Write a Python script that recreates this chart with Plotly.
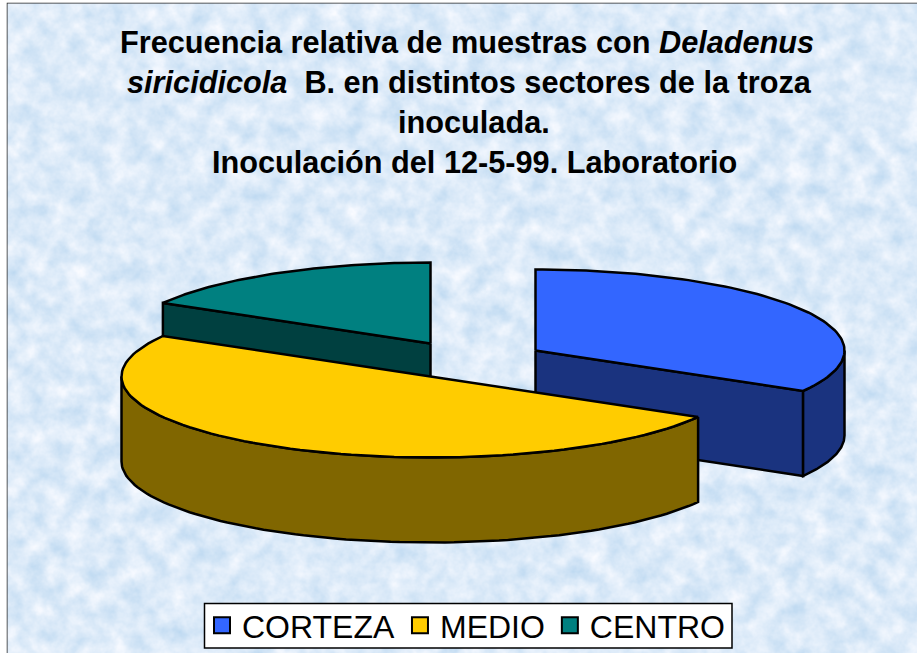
import base64
import numpy as np
import plotly.graph_objects as go

# Data
categories = ["CORTEZA", "MEDIO", "CENTRO"]
values = [2, 3, 1]  # relative frequency: 1/3, 1/2, 1/6
top_colors = ["#3366FF", "#FFCC00", "#008080"]
side_colors = ["#1A337F", "#806600", "#004040"]
title_lines = [
    "Frecuencia relativa de muestras con <i>Deladenus</i>",
    "<i>siricidicola</i>\u00a0 B. en distintos sectores de la troza",
    "inoculada.",
    "Inoculación del 12-5-99. Laboratorio",
]

# Pie geometry, in page pixels
RX, RY, DEPTH = 309, 81, 85
centers = {"CORTEZA": (535.5, 350.5), "MEDIO": (430.5, 376.5), "CENTRO": (430.5, 343.5)}
OUTLINE = "#000000"
LW = 2.5
FONT = "Liberation Sans, Arial, sans-serif"

# Mottled paper texture of the slide background (decoration only)
TEXTURE_SVG = """<svg xmlns="http://www.w3.org/2000/svg" width="917" height="653">
<filter id="m" x="0" y="0" width="100%" height="100%" color-interpolation-filters="sRGB">
<feTurbulence type="fractalNoise" baseFrequency="0.05" numOctaves="4" seed="7"/>
<feColorMatrix type="matrix" values="0.28 0 0 0 0.725  0.16 0 0 0 0.84  0.07 0 0 0 0.94  0 0 0 0 1"/>
</filter>
<rect width="917" height="653" filter="url(#m)"/>
</svg>"""
texture = "data:image/svg+xml;base64," + base64.b64encode(TEXTURE_SVG.encode()).decode()

total = sum(values)
angles = {}
start = 0.0
for c, v in zip(categories, values):
    angles[c] = (start, start + 360.0 * v / total)
    start += 360.0 * v / total


def rim(c, a0, a1, dy=0.0):
    cx, cy = centers[c]
    t = np.radians(np.linspace(a0, a1, 90))
    return cx + RX * np.sin(t), cy - RY * np.cos(t) + dy


def poly(x, y, color):
    xs = list(x) + [x[0]]
    ys = list(y) + [y[0]]
    return go.Scatter(x=xs, y=ys, mode="lines", fill="toself", fillcolor=color,
                      line=dict(color=OUTLINE, width=LW), showlegend=False,
                      hoverinfo="skip")


def slice_traces(c, cut_angle, wall):
    i = categories.index(c)
    a0, a1 = angles[c]
    cx, cy = centers[c]
    out = []
    if cut_angle is not None:
        px, py = rim(c, cut_angle, cut_angle)
        out.append(poly([cx, px[0], px[0], cx], [cy, py[0], py[0] + DEPTH, cy + DEPTH],
                        side_colors[i]))
    if wall is not None:
        x1, y1 = rim(c, wall[0], wall[1])
        x2, y2 = rim(c, wall[1], wall[0], DEPTH)
        out.append(poly(np.r_[x1, x2], np.r_[y1, y2], side_colors[i]))
    xt, yt = rim(c, a0, a1)
    out.append(poly(np.r_[cx, xt], np.r_[cy, yt], top_colors[i]))
    return out


fig = go.Figure()
for c, col in zip(categories, top_colors):
    fig.add_trace(go.Scatter(x=[None], y=[None], mode="markers", name=c,
                             marker=dict(symbol="square", size=16, color=col,
                                         line=dict(color="#000000", width=2))))

a = angles["CORTEZA"]
for t in slice_traces("CORTEZA", a[1], (90, a[1])):
    fig.add_trace(t)
a = angles["CENTRO"]
for t in slice_traces("CENTRO", a[0], None):
    fig.add_trace(t)
a = angles["MEDIO"]
for t in slice_traces("MEDIO", None, (a[0], 270)):
    fig.add_trace(t)

title_x = [467, 469, 474, 474]
title_y = [42, 82, 122, 162]
annotations = [
    dict(x=xx, y=yy, xref="x", yref="y", text="<b>%s</b>" % s, showarrow=False,
         font=dict(family=FONT, size=30.7, color="#000000"), xanchor="center", yanchor="middle")
    for s, xx, yy in zip(title_lines, title_x, title_y)
]

fig.update_layout(
    width=917, height=653, margin=dict(l=0, r=0, t=0, b=0, autoexpand=False),
    paper_bgcolor="#FFFFFF", plot_bgcolor="rgba(0,0,0,0)",
    xaxis=dict(range=[0, 917], visible=False, fixedrange=True),
    yaxis=dict(range=[653, 0], visible=False, fixedrange=True),
    annotations=annotations,
    images=[dict(source=texture, xref="x", yref="y", x=7.5, y=3.5, sizex=917, sizey=653,
                 sizing="stretch", xanchor="left", yanchor="top", layer="below")],
    shapes=[
        dict(type="rect", layer="below", xref="x", yref="y", x0=7.5, y0=3.5, x1=930, y1=670,
             fillcolor="rgba(0,0,0,0)", line=dict(color="#222222", width=1.5)),
        # legend box: drawn separately because the native box is taller than the original
        dict(type="rect", layer="above", xref="x", yref="y", x0=204.5, y0=603.5, x1=732, y1=648,
             fillcolor="#FFFFFF", line=dict(color="#000000", width=1.5)),
    ],
    legend=dict(orientation="h", x=202 / 917, y=1 - 598 / 653, xanchor="left", yanchor="top",
                bgcolor="rgba(0,0,0,0)", borderwidth=0,
                font=dict(family=FONT, size=32, color="#000000"), itemwidth=30,
                itemsizing="trace"),
    showlegend=True,
)
fig.write_html("out.html", config={"displayModeBar": False},
               post_script="document.body.style.margin='0';document.body.style.overflow='hidden';")
